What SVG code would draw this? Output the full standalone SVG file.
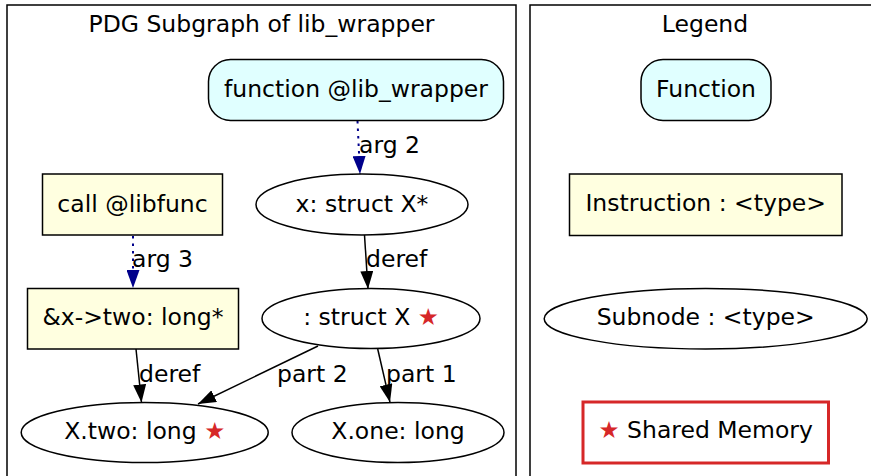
<svg xmlns="http://www.w3.org/2000/svg" width="871" height="476" viewBox="0 0 871 476">
<defs>
<style>
text{font-family:"DejaVu Sans","Liberation Sans",sans-serif;font-size:23.5px;fill:#000}
.c{text-anchor:middle}
.cl{fill:#fff;stroke:#000;stroke-width:1.5}
.fn{fill:#e0ffff;stroke:#000;stroke-width:1.5}
.ins{fill:#ffffe0;stroke:#000;stroke-width:1.5}
.sub{fill:#fff;stroke:#000;stroke-width:1.5}
.star{fill:#d62728}
.e{fill:none;stroke:#000;stroke-width:1.5}
.d{fill:none;stroke:#00008b;stroke-width:2;stroke-dasharray:2.5,5}
</style>
<marker id="ab" markerUnits="userSpaceOnUse" markerWidth="18" markerHeight="13" refX="18" refY="6.5" orient="auto"><path d="M0,0 L18,6.5 L0,13 z" fill="#000"/></marker>
<marker id="an" markerUnits="userSpaceOnUse" markerWidth="18" markerHeight="13" refX="18" refY="6.5" orient="auto"><path d="M0,0 L18,6.5 L0,13 z" fill="#00008b"/></marker>
</defs>
<rect width="871" height="476" fill="#fff"/>
<g id="cluster_pdg">
<rect class="cl" x="7" y="5" width="509" height="480"/>
<text class="c" x="261.5" y="32">PDG Subgraph of lib_wrapper</text>
</g>
<g id="cluster_legend">
<rect class="cl" x="530" y="5" width="350" height="480"/>
<text class="c" x="705" y="32">Legend</text>
</g>
<g id="edges">
<line class="d" x1="357.5" y1="121" x2="360" y2="174" marker-end="url(#an)"/>
<text x="359" y="153">arg 2</text>
<line class="d" x1="133" y1="236" x2="133" y2="288" marker-end="url(#an)"/>
<text x="132" y="267">arg 3</text>
<line class="e" x1="364.5" y1="235" x2="368" y2="289" marker-end="url(#ab)"/>
<text x="366" y="267">deref</text>
<line class="e" x1="136" y1="349" x2="141.5" y2="402.5" marker-end="url(#ab)"/>
<text x="139" y="382">deref</text>
<line class="e" x1="318" y1="346" x2="198" y2="404" marker-end="url(#ab)"/>
<text x="277" y="382">part 2</text>
<line class="e" x1="377.7" y1="349" x2="390" y2="402.3" marker-end="url(#ab)"/>
<text x="386" y="382">part 1</text>
</g>
<g id="n_function">
<rect class="fn" x="208.5" y="59.5" width="295" height="61" rx="22"/>
<text class="c" x="356" y="97">function @lib_wrapper</text>
</g>
<g id="n_x">
<ellipse class="sub" cx="362" cy="204.5" rx="106" ry="30.5"/>
<text class="c" x="362" y="212">x: struct X*</text>
</g>
<g id="n_call">
<rect class="ins" x="42.5" y="174" width="180" height="61"/>
<text class="c" x="132.5" y="212">call @libfunc</text>
</g>
<g id="n_addr">
<rect class="ins" x="27.5" y="288.5" width="211" height="60.5"/>
<text class="c" x="133" y="325">&amp;x-&gt;two: long*</text>
</g>
<g id="n_struct">
<ellipse class="sub" cx="371" cy="318.5" rx="109" ry="30"/>
<text class="c" x="371" y="325">: struct X <tspan class="star">★</tspan></text>
</g>
<g id="n_two">
<ellipse class="sub" cx="144.7" cy="432.5" rx="123.5" ry="30"/>
<text class="c" x="144.7" y="438.5">X.two: long <tspan class="star">★</tspan></text>
</g>
<g id="n_one">
<ellipse class="sub" cx="398" cy="432.5" rx="106" ry="30"/>
<text class="c" x="398" y="438.5">X.one: long</text>
</g>
<g id="legend_function">
<rect class="fn" x="641" y="59.5" width="130" height="61" rx="22"/>
<text class="c" x="706" y="97">Function</text>
</g>
<g id="legend_instruction">
<rect class="ins" x="569.5" y="174" width="272.5" height="61.5"/>
<text class="c" x="705.7" y="211">Instruction : &lt;type&gt;</text>
</g>
<g id="legend_subnode">
<ellipse class="sub" cx="705.7" cy="318.7" rx="161.5" ry="30.3"/>
<text class="c" x="705.7" y="325">Subnode : &lt;type&gt;</text>
</g>
<g id="legend_shared">
<rect x="583" y="402" width="245.5" height="61" fill="#fff" stroke="#d62728" stroke-width="3"/>
<text class="c" x="705.7" y="437.5"><tspan class="star">★</tspan> Shared Memory</text>
</g>
</svg>
